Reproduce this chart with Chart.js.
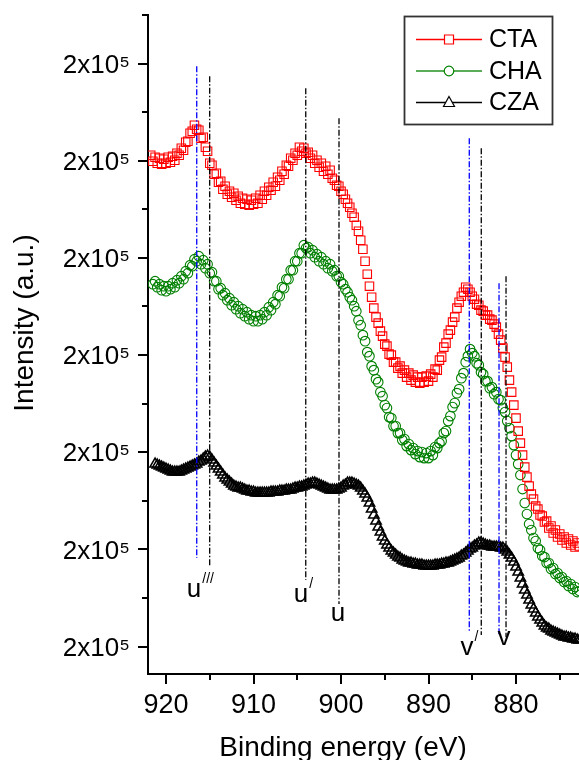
<!DOCTYPE html>
<html>
<head>
<meta charset="utf-8">
<script src="https://cdn.jsdelivr.net/npm/chart.js@4.4.1/dist/chart.umd.min.js"></script>
<style>
html,body{margin:0;padding:0;background:#ffffff;}
canvas{display:block;}
</style>
</head>
<body>
<canvas id="chart" width="579" height="760"></canvas>
<script>
// ---------- DATA ----------
const energy = [
921.75,921.5,921.25,921,920.75,920.5,920.25,920,
919.75,919.5,919.25,919,918.75,918.5,918.25,918,
917.75,917.5,917.25,917,916.75,916.5,916.25,916,
915.75,915.5,915.25,915,914.75,914.5,914.25,914,
913.75,913.5,913.25,913,912.75,912.5,912.25,912,
911.75,911.5,911.25,911,910.75,910.5,910.25,910,
909.75,909.5,909.25,909,908.75,908.5,908.25,908,
907.75,907.5,907.25,907,906.75,906.5,906.25,906,
905.75,905.5,905.25,905,904.75,904.5,904.25,904,
903.75,903.5,903.25,903,902.75,902.5,902.25,902,
901.75,901.5,901.25,901,900.75,900.5,900.25,900,
899.75,899.5,899.25,899,898.75,898.5,898.25,898,
897.75,897.5,897.25,897,896.75,896.5,896.25,896,
895.75,895.5,895.25,895,894.75,894.5,894.25,894,
893.75,893.5,893.25,893,892.75,892.5,892.25,892,
891.75,891.5,891.25,891,890.75,890.5,890.25,890,
889.75,889.5,889.25,889,888.75,888.5,888.25,888,
887.75,887.5,887.25,887,886.75,886.5,886.25,886,
885.75,885.5,885.25,885,884.75,884.5,884.25,884,
883.75,883.5,883.25,883,882.75,882.5,882.25,882,
881.75,881.5,881.25,881,880.75,880.5,880.25,880,
879.75,879.5,879.25,879,878.75,878.5,878.25,878,
877.75,877.5,877.25,877,876.75,876.5,876.25,876,
875.75,875.5,875.25,875,874.75,874.5,874.25,874,
873.75,873.5,873.25,873,872.75
];

const seriesNames = ['CTA', 'CHA', 'CZA'];

const ctaValues = [
209500,208900,209300,208700,209200,208600,209100,208700,
209300,208800,209400,209000,209700,209500,210200,210000,
210800,210900,211700,211900,212500,212100,212000,211200,
211300,210300,209900,208700,208500,207600,207700,206800,
206900,206100,206400,205600,205900,205300,205700,205000,
205400,204700,205200,204600,205100,204500,205000,204600,
205200,204700,205500,205100,205900,205500,206300,206000,
206800,206400,207300,207000,207900,207600,208500,208400,
209200,209000,209700,209500,210300,209900,210200,209700,
209800,209200,209500,208700,209000,208300,208700,207900,
208400,207600,208000,207200,207000,206500,206400,205900,
205600,205100,204700,204300,203700,203300,202500,201900,
201000,200100,198900,197600,196400,195300,194200,193300,
192700,191900,191400,190600,190400,189600,189500,188800,
188800,188200,188400,187700,188000,187300,187700,187000,
187500,186800,187300,186700,187300,186800,187400,186900,
187600,187300,188100,188000,189000,189300,190300,190700,
191600,192000,192800,193300,194200,194800,195400,195800,
196300,196100,195800,195400,195100,194600,194500,194000,
193900,193500,193500,193100,193000,192600,192300,191600,
191000,190200,189300,188300,187000,185800,184500,183200,
181900,180700,179500,178300,177300,176400,175600,175100,
174400,174100,173500,173400,172800,172900,172200,172400,
171700,172000,171300,171600,171000,171300,170700,171100,
170500,170900,170300,170700,170400
];

const chaValues = [
null,196600,196900,196300,196600,196000,196400,195900,
196400,196100,196700,196300,197000,196700,197400,197100,
197900,197700,198500,198400,199100,198900,199400,198600,
199000,198200,198600,197700,197800,196900,196900,196100,
196200,195500,195700,195000,195200,194500,194800,194100,
194400,193700,194100,193400,193800,193100,193500,192900,
193400,192900,193500,193100,193800,193500,194300,194000,
194800,194600,195500,195400,196300,196200,197100,197100,
198000,198000,198900,198900,199700,199700,200500,200200,
200300,199700,200000,199300,199600,198900,199300,198600,
198900,198200,198600,197900,198000,197400,197400,196800,
196600,196100,195800,195300,195000,194400,193900,193000,
192500,191500,190900,189800,189400,188400,188000,187100,
186800,185800,185400,184500,184200,183300,183200,182400,
182400,181700,181700,181000,181100,180400,180600,180000,
180200,179600,179900,179300,179800,179200,179700,179200,
179900,179500,180300,180200,180700,180900,181700,181900,
182900,183400,184300,184700,185700,186100,187200,187700,
188800,189400,190100,189700,189400,188700,188500,187800,
187600,186900,186900,186200,186300,185600,185800,185100,
185000,184200,183800,182900,182200,181400,180500,179500,
178600,177500,176100,174700,173600,172600,172000,171200,
170900,170200,170000,169400,169300,168700,168700,168100,
168200,167600,167700,167200,167300,166800,166900,166400,
166600,166100,166300,165800,165900
];

const czaValues = [
null,null,178600,178500,178400,178300,178200,178100,
178000,177900,177800,177800,177800,177800,177900,178000,
178100,178200,178300,178400,178500,178600,178800,178900,
179100,179300,179400,179300,179000,178700,178400,178100,
177800,177500,177200,177000,176800,176600,176400,176300,
176200,176200,176100,176000,175900,175900,175800,175800,
175700,175700,175700,175700,175700,175700,175700,175800,
175800,175800,175800,175900,175900,175900,176000,176000,
176000,176100,176200,176200,176300,176300,176400,176500,
176600,176600,176700,176700,176600,176500,176400,176300,
176200,176100,176000,176000,176000,176000,176100,176200,
176400,176500,176700,176700,176700,176600,176500,176400,
176200,175900,175600,175200,174700,174100,173500,172900,
172300,171800,171300,170900,170500,170200,169900,169700,
169500,169300,169200,169000,168900,168800,168700,168700,
168600,168600,168500,168500,168500,168400,168400,168400,
168400,168400,168500,168500,168500,168600,168600,168700,
168700,168800,168900,169000,169100,169200,169400,169500,
169700,169900,170100,170200,170400,170500,170700,170700,
170600,170500,170400,170400,170300,170300,170300,170300,
170200,170200,170000,169800,169500,169200,168800,168300,
167800,167200,166600,166000,165500,165000,164500,164100,
163700,163300,163000,162700,162400,162200,162100,161900,
161800,161700,161600,161500,161400,161300,161300,161200,
161200,161100,161100,161000,161000
];

// axis ticks
const xTickValues = [920, 915, 910, 905, 900, 895, 890, 885, 880, 875];
const xTickLabels = ['920', '', '910', '', '900', '', '890', '', '880', ''];
const yTickValues = [160350, 165210, 170070, 174930, 179790, 184650, 189510, 194370, 199230, 204090, 208950, 213810, 218670, 223530];
const yTickLabels = ['2x10⁵', '', '2x10⁵', '', '2x10⁵', '', '2x10⁵', '', '2x10⁵', '', '2x10⁵', '', '2x10⁵', ''];

// peak marker lines (energy, top and bottom intensity)
const peakEnergies   = [916.49, 915.01, 904.03, 900.23, 885.34, 883.97, 881.94, 881.14];
const peakLineTop    = [218400, 217400, 216200, 213200, 211200, 210200, 196700, 197400];
const peakLineBottom = [169200, 168400, 167000, 164600, 161900, 161500, 161400, 161300];

// peak labels
const peakLabelText = ['u', 'u', 'u', 'v', 'v'];
const peakLabelSup  = ['///', '/', '', '/', ''];
const peakLabelE    = [916.8, 904.57, 900.34, 885.6, 881.37];
const peakLabelY    = [166000, 165500, 163600, 160200, 161200];

// ---------- STYLE ----------
const FONT = "'Liberation Sans', Arial, Helvetica, sans-serif";
const peakLineColors = ['#0000ff', '#000000', '#000000', '#000000', '#0000ff', '#000000', '#0000ff', '#000000'];
const seriesStyle = [
  { style: 'rect', radius: 6, width: 1.1, color: '#ff0000', legendLine: '#ff0000' },
  { style: 'circle', radius: 4.8, width: 1.1, color: '#008000', legendLine: '#5aae5a' },
  { style: 'triangle', radius: 6, width: 1.5, color: '#000000', legendLine: '#000000' }
];

function toPoints(values) {
  const pts = [];
  energy.forEach((e, i) => { if (values[i] !== null) pts.push({ x: e, y: values[i] }); });
  return pts;
}

const seriesValues = [ctaValues, chaValues, czaValues];

const datasets = [];
peakEnergies.forEach((e, i) => {
  datasets.push({
    type: 'line',
    data: [{ x: e, y: peakLineTop[i] }, { x: e, y: peakLineBottom[i] }],
    borderColor: peakLineColors[i],
    borderWidth: 1.3,
    borderDash: [6, 2, 1.5, 2],
    pointRadius: 0,
    showLine: true,
    fill: false,
    order: 0
  });
});
seriesNames.forEach((name, i) => {
  const s = seriesStyle[i];
  datasets.push({
    label: name,
    data: toPoints(seriesValues[i]),
    pointStyle: s.style,
    pointRadius: s.radius,
    pointBorderColor: s.color,
    pointBackgroundColor: 'rgba(0,0,0,0)',
    pointBorderWidth: s.width,
    borderColor: s.color,
    backgroundColor: 'rgba(0,0,0,0)',
    showLine: false,
    order: i + 1
  });
});

// ---------- PLUGINS ----------
const decorPlugin = {
  id: 'decor',
  afterDatasetsDraw(chart) {
    const { ctx, chartArea } = chart;
    const xs = chart.scales.x, ys = chart.scales.y;
    ctx.save();
    // minor ticks
    ctx.strokeStyle = '#000';
    ctx.lineWidth = 2;
    xTickValues.forEach((v, i) => {
      if (xTickLabels[i] === '') {
        const px = Math.round(xs.getPixelForValue(v));
        ctx.beginPath();
        ctx.moveTo(px, chartArea.bottom);
        ctx.lineTo(px, chartArea.bottom + 6);
        ctx.stroke();
      }
    });
    yTickValues.forEach((v, i) => {
      if (yTickLabels[i] === '') {
        const py = Math.round(ys.getPixelForValue(v));
        ctx.beginPath();
        ctx.moveTo(chartArea.left - 6, py);
        ctx.lineTo(chartArea.left, py);
        ctx.stroke();
      }
    });

    // peak labels
    ctx.fillStyle = '#000';
    peakLabelText.forEach((t, i) => {
      const px = xs.getPixelForValue(peakLabelE[i]);
      const py = ys.getPixelForValue(peakLabelY[i]);
      ctx.font = '26px ' + FONT;
      ctx.textAlign = 'center';
      ctx.textBaseline = 'alphabetic';
      ctx.fillText(t, px, py + 7);
      if (peakLabelSup[i]) {
        const w = ctx.measureText(t).width;
        ctx.font = '14px ' + FONT;
        ctx.textAlign = 'left';
        ctx.fillText(peakLabelSup[i], px + w / 2 + 1, py - 7);
      }
    });

    // axis titles
    ctx.font = '28px ' + FONT;
    ctx.textAlign = 'center';
    ctx.textBaseline = 'alphabetic';
    ctx.fillText('Binding energy (eV)', 343, 756);
    ctx.save();
    ctx.translate(33, 323);
    ctx.rotate(-Math.PI / 2);
    ctx.fillText('Intensity (a.u.)', 0, 0);
    ctx.restore();

    // legend
    const bx = chartArea.right - 175, by = chartArea.top + 1.5;
    ctx.strokeStyle = '#333';
    ctx.lineWidth = 1.8;
    ctx.strokeRect(bx + 0.5, by, 148, 108);
    const rowY = [by + 23, by + 54.5, by + 86];
    seriesNames.forEach((name, i) => {
      const s = seriesStyle[i];
      const y = rowY[i];
      ctx.strokeStyle = s.legendLine;
      ctx.lineWidth = i === 1 ? 2 : 1.4;
      ctx.beginPath();
      ctx.moveTo(bx + 12, y);
      ctx.lineTo(bx + 78, y);
      ctx.stroke();
      const mx = bx + 45;
      ctx.fillStyle = '#fff';
      ctx.strokeStyle = s.color;
      ctx.lineWidth = 1.2;
      ctx.beginPath();
      if (s.style === 'rect') {
        ctx.rect(mx - 4.5, y - 4.5, 9, 9);
      } else if (s.style === 'circle') {
        ctx.arc(mx, y, 4.8, 0, Math.PI * 2);
      } else {
        ctx.moveTo(mx, y - 6);
        ctx.lineTo(mx + 5.5, y + 4);
        ctx.lineTo(mx - 5.5, y + 4);
        ctx.closePath();
      }
      ctx.fill();
      ctx.stroke();
      ctx.fillStyle = '#000';
      ctx.font = '25px ' + FONT;
      ctx.textAlign = 'left';
      ctx.textBaseline = 'middle';
      ctx.fillText(name, bx + 85, y + 1);
    });
    ctx.restore();
  }
};

// ---------- CHART ----------
new Chart(document.getElementById('chart'), {
  type: 'scatter',
  data: { datasets },
  options: {
    responsive: false,
    animation: false,
    devicePixelRatio: 1,
    layout: { autoPadding: false, padding: { top: 15, right: 0, bottom: 0, left: 0 } },
    plugins: { legend: { display: false }, tooltip: { enabled: false } },
    elements: { line: { tension: 0 } },
    scales: {
      x: {
        type: 'linear',
        reverse: true,
        min: 872.8,
        max: 922.06,
        afterBuildTicks: s => { s.ticks = xTickValues.map(v => ({ value: v })); },
        afterFit: s => { s.height = 86; s.paddingLeft = 0; s.paddingRight = 0; },
        ticks: {
          autoSkip: false, maxRotation: 0, minRotation: 0, padding: 5,
          color: '#000', font: { family: FONT, size: 27 },
          callback: (v, i) => xTickLabels[i]
        },
        grid: {
          drawOnChartArea: false, drawTicks: true, tickLength: 10, lineWidth: 2,
          color: ctx => (xTickLabels[ctx.index] ? '#000' : 'rgba(0,0,0,0)')
        },
        border: { display: true, color: '#000', width: 2 }
      },
      y: {
        type: 'linear',
        min: 157600,
        max: 223530,
        afterBuildTicks: s => { s.ticks = yTickValues.map(v => ({ value: v })); },
        afterFit: s => { s.width = 148; s.paddingTop = 0; s.paddingBottom = 0; },
        ticks: {
          autoSkip: false, padding: 8, labelOffset: 2,
          color: '#000', font: { family: FONT, size: 26 },
          callback: (v, i) => yTickLabels[i]
        },
        grid: {
          drawOnChartArea: false, drawTicks: true, tickLength: 10, lineWidth: 2,
          color: ctx => (yTickLabels[ctx.index] ? '#000' : 'rgba(0,0,0,0)')
        },
        border: { display: true, color: '#000', width: 2 }
      }
    }
  },
  plugins: [decorPlugin]
});
</script>
</body>
</html>
